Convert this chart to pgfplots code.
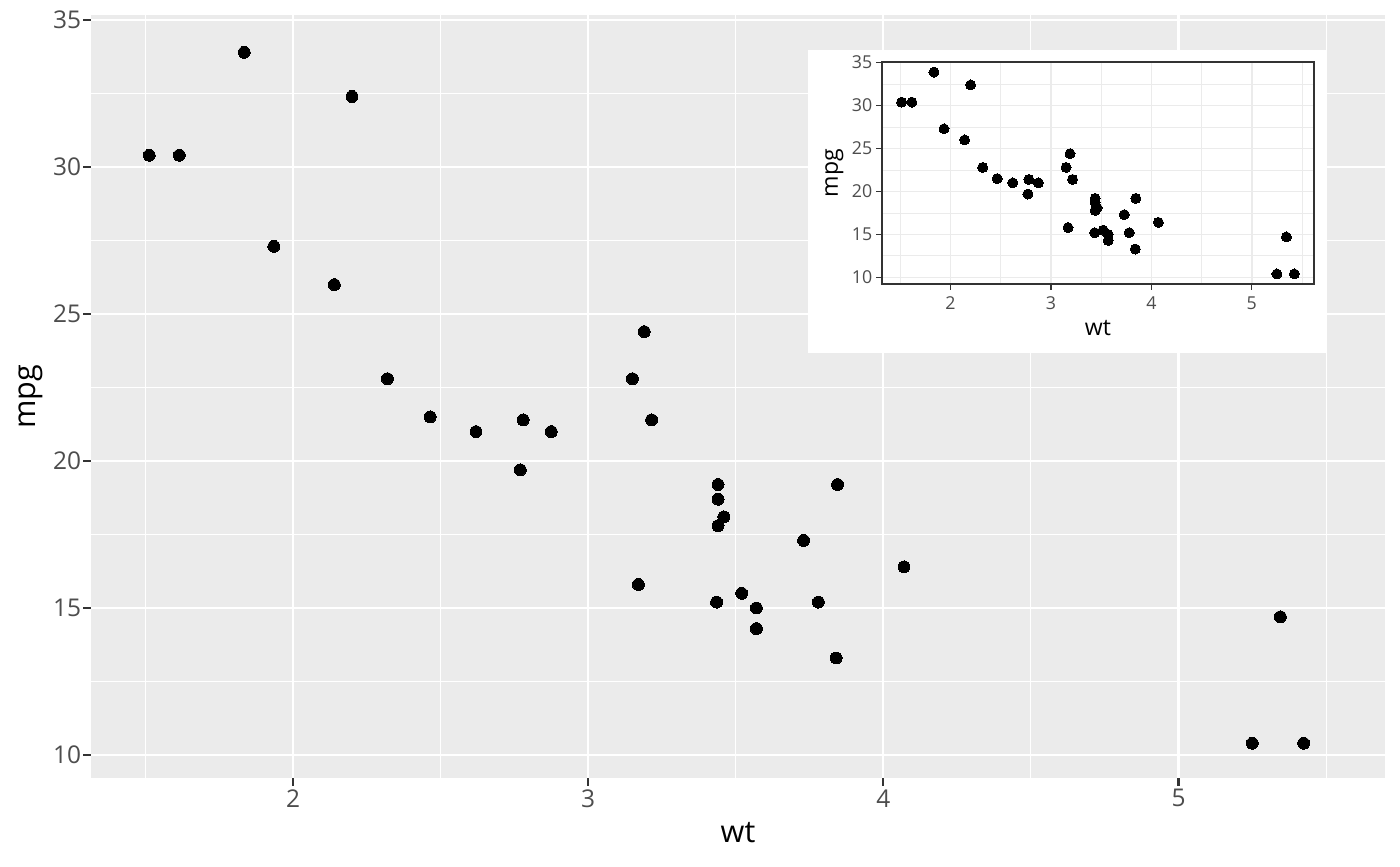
\documentclass[border=0pt]{standalone}
\usepackage{pgfplots}
\pgfplotsset{compat=1.18}
\usepackage{fontspec}
\setmainfont{Open Sans}
\definecolor{panel}{HTML}{EBEBEB}
\definecolor{tickc}{HTML}{333333}
\definecolor{labc}{HTML}{4D4D4D}
\definecolor{gridbw}{HTML}{EBEBEB}
\pgfplotstableread{
wt mpg
2.620 21.0
2.875 21.0
2.320 22.8
3.215 21.4
3.440 18.7
3.460 18.1
3.570 14.3
3.190 24.4
3.150 22.8
3.440 19.2
3.440 17.8
4.070 16.4
3.730 17.3
3.780 15.2
5.250 10.4
5.424 10.4
5.345 14.7
2.200 32.4
1.615 30.4
1.835 33.9
2.465 21.5
3.520 15.5
3.435 15.2
3.840 13.3
3.845 19.2
1.935 27.3
2.140 26.0
1.513 30.4
3.170 15.8
2.770 19.7
3.570 15.0
2.780 21.4
}\mtcars
\begin{document}
\begin{tikzpicture}
\path[use as bounding box, fill=white] (0,0) rectangle (504pt,311.76pt);
\begin{axis}[
  at={(32.76pt,31.68pt)}, anchor=south west,
  width=465.84pt, height=274.68pt, scale only axis,
  xmin=1.3157, xmax=5.6996, ymin=9.218, ymax=35.17,
  axis background/.style={fill=panel},
  axis line style={draw=none},
  xtick={2,3,4,5}, ytick={10,15,20,25,30,35},
  minor xtick={1.5,2.5,3.5,4.5,5.5},
  minor ytick={12.5,17.5,22.5,27.5,32.5},
  grid=both,
  major grid style={white, line width=0.78pt},
  minor grid style={white, line width=0.4pt},
  tick align=outside, major tick length=2.75pt, minor tick length=0pt,
  tick pos=left,
  major tick style={color=tickc, line width=0.75pt},
  /pgf/number format/assume math mode=true,
  xticklabel style={font=\fontsize{8.8}{10}\selectfont, text=labc, inner sep=0pt, anchor=north, yshift=-1.2pt},
  yticklabel style={font=\fontsize{8.8}{10}\selectfont, text=labc, inner sep=0pt, anchor=east, xshift=-0.6pt},
  xlabel={wt}, ylabel={mpg},
  xlabel style={font=\fontsize{11}{13}\selectfont, inner sep=0pt, at={(axis description cs:0.5,-0.0721)}, anchor=center},
  ylabel style={font=\fontsize{11}{13}\selectfont, inner sep=0pt, at={(axis description cs:-0.0468,0.5)}, anchor=center},
]
\addplot[only marks, mark=*, mark size=2.15pt, mark options={draw=black, fill=black, line width=0pt}] table[x=wt, y=mpg] {\mtcars};
\end{axis}
\fill[white] (290.88pt,184.68pt) rectangle (477.36pt,293.76pt);
\begin{axis}[
  at={(317.52pt,209.52pt)}, anchor=south west,
  width=155.52pt, height=79.92pt, scale only axis,
  xmin=1.3175, xmax=5.6196, ymin=9.225, ymax=35.075,
  axis background/.style={fill=white},
  axis line style={draw=tickc, line width=0.5pt},
  xtick={2,3,4,5}, ytick={10,15,20,25,30,35},
  minor xtick={1.5,2.5,3.5,4.5,5.5},
  minor ytick={12.5,17.5,22.5,27.5,32.5},
  grid=both,
  major grid style={gridbw, line width=0.6pt},
  minor grid style={gridbw, line width=0.3pt},
  tick align=outside, major tick length=2.1pt, minor tick length=0pt,
  tick pos=left,
  major tick style={color=tickc, line width=0.5pt},
  /pgf/number format/assume math mode=true,
  xticklabel style={font=\fontsize{6.4}{7}\selectfont, text=labc, inner sep=0pt, anchor=north, yshift=-2.4pt},
  yticklabel style={font=\fontsize{6.4}{7}\selectfont, text=labc, inner sep=0pt, anchor=east, xshift=-1.2pt},
  xlabel={wt}, ylabel={mpg},
  xlabel style={font=\fontsize{8.3}{9}\selectfont, inner sep=0pt, at={(axis description cs:0.5,-0.2002)}, anchor=center},
  ylabel style={font=\fontsize{8.3}{9}\selectfont, inner sep=0pt, at={(axis description cs:-0.110,0.5)}, anchor=center},
]
\addplot[only marks, mark=*, mark size=1.8pt, mark options={draw=black, fill=black, line width=0pt}] table[x=wt, y=mpg] {\mtcars};
\end{axis}
\end{tikzpicture}
\end{document}
